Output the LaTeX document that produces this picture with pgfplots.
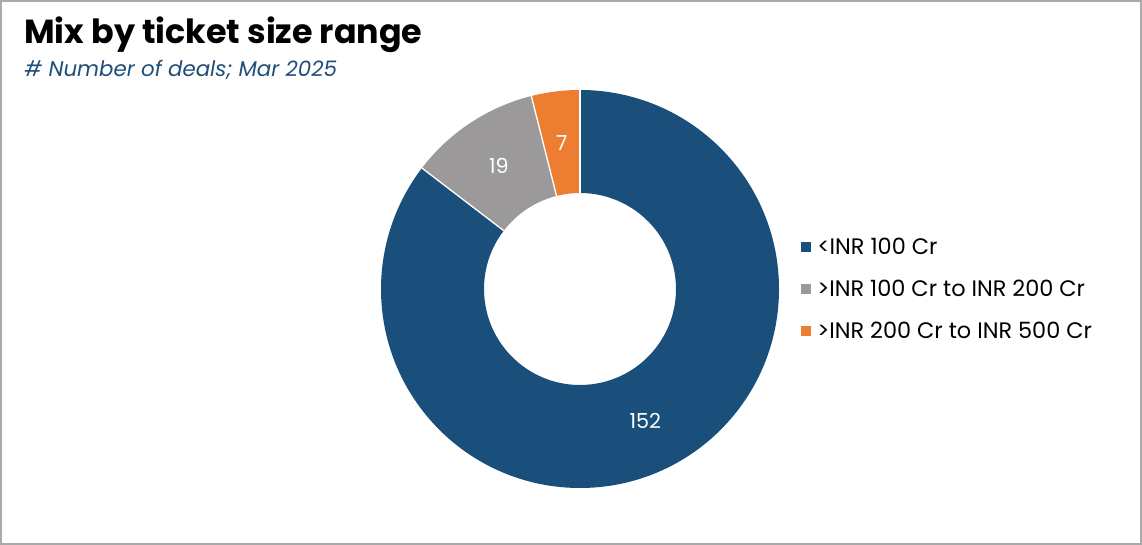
\documentclass[border=0pt]{standalone}
\usepackage{fontspec}
\setmainfont{Poppins}
\usepackage{pgfplots}
\usepackage{pgfplotstable}
\pgfplotsset{compat=1.18}
\usetikzlibrary{calc}
\definecolor{cblue}{RGB}{26,79,124}
\definecolor{cgray}{RGB}{155,153,153}
\definecolor{corange}{RGB}{237,125,49}
\definecolor{csub}{RGB}{31,78,121}
\definecolor{cframe}{RGB}{170,170,170}
\pgfplotstableread{
label value
a 152
b 19
c 7
}\data
\begin{document}
\begin{tikzpicture}[x=0.75pt,y=0.75pt]
\useasboundingbox (0,0) rectangle (1142,545);
\draw[cframe, line width=1.5pt] (1,1) rectangle (1141,544);
\coordinate (C) at (580,256);
\node[anchor=base west, inner sep=0pt, font=\bfseries\fontsize{25}{30}\selectfont] at (24,501) {Mix by ticket size range};
\node[anchor=base west, inner sep=0pt, text=csub, font=\itshape\fontsize{16}{19}\selectfont] at (24,468) {\# Number of deals; Mar 2025};
\pgfplotstablegetelem{0}{value}\of\data \let\vA\pgfplotsretval
\pgfplotstablegetelem{1}{value}\of\data \let\vB\pgfplotsretval
\pgfplotstablegetelem{2}{value}\of\data \let\vC\pgfplotsretval
\pgfmathsetmacro\tot{\vA+\vB+\vC}
\pgfmathsetmacro\aA{90}
\pgfmathsetmacro\aB{\aA-360*(\vA/\tot)}
\pgfmathsetmacro\aC{\aB-360*(\vB/\tot)}
\pgfmathsetmacro\aD{\aC-360*(\vC/\tot)}
\pgfmathsetmacro\mA{(\aA+\aB)/2}
\pgfmathsetmacro\mB{(\aB+\aC)/2}
\pgfmathsetmacro\mC{(\aC+\aD)/2}
\def\R{149.25pt}
\def\r{72pt}
\def\M{110.6pt}
\begin{axis}[at={(C)}, anchor=center, width=298.5pt, height=298.5pt,
  scale only axis, xmin=-1, xmax=1, ymin=-1, ymax=1, hide axis, clip=false,
  legend image code/.code={\fill[#1] (0pt,-3.75pt) rectangle (7.5pt,3.75pt);},
  legend style={at={(axis description cs:1,0.5)}, anchor=west, xshift=16.5pt,
    draw=none, fill=none, inner sep=0pt, row sep=20pt,
    font=\fontsize{16.8}{20}\selectfont,
    nodes={inner sep=0pt, text height=11.5pt, text depth=0pt, anchor=west},
    /tikz/every odd column/.append style={column sep=4.5pt}},
  legend cell align=left]
\addlegendimage{fill=cblue, draw=none}
\addlegendentry{<INR 100 Cr}
\addlegendimage{fill=cgray, draw=none}
\addlegendentry{>INR 100 Cr to INR 200 Cr}
\addlegendimage{fill=corange, draw=none}
\addlegendentry{>INR 200 Cr to INR 500 Cr}
\fill[cblue] ($(axis cs:0,0)+(\aA:\R)$) arc[start angle=\aA, end angle=\aB, radius=\R] -- ($(axis cs:0,0)+(\aB:\r)$) arc[start angle=\aB, end angle=\aA, radius=\r] -- cycle;
\fill[cgray] ($(axis cs:0,0)+(\aB:\R)$) arc[start angle=\aB, end angle=\aC, radius=\R] -- ($(axis cs:0,0)+(\aC:\r)$) arc[start angle=\aC, end angle=\aB, radius=\r] -- cycle;
\fill[corange] ($(axis cs:0,0)+(\aC:\R)$) arc[start angle=\aC, end angle=\aD, radius=\R] -- ($(axis cs:0,0)+(\aD:\r)$) arc[start angle=\aD, end angle=\aC, radius=\r] -- cycle;
\draw[white, line width=1pt] ($(axis cs:0,0)+(\aA:\r)$) -- ($(axis cs:0,0)+(\aA:\R)$);
\draw[white, line width=1pt] ($(axis cs:0,0)+(\aB:\r)$) -- ($(axis cs:0,0)+(\aB:\R)$);
\draw[white, line width=1pt] ($(axis cs:0,0)+(\aC:\r)$) -- ($(axis cs:0,0)+(\aC:\R)$);
\node[text=white, font=\fontsize{15.5}{18}\selectfont] at ($(axis cs:0,0)+(\mA:\M)$) {\vA};
\node[text=white, font=\fontsize{15.5}{18}\selectfont] at ($(axis cs:0,0)+(\mB:\M)$) {\vB};
\node[text=white, font=\fontsize{15.5}{18}\selectfont] at ($(axis cs:0,0)+(\mC:\M)$) {\vC};
\end{axis}
\end{tikzpicture}
\end{document}
